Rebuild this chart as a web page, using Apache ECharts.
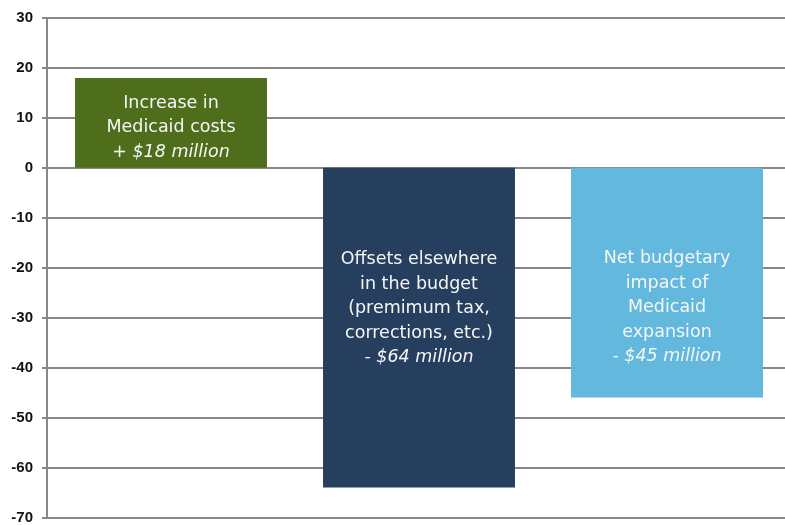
<!DOCTYPE html>
<html>
<head>
<meta charset="utf-8">
<script src="https://cdn.jsdelivr.net/npm/echarts@6/dist/echarts.min.js"></script>
<style>html,body{margin:0;padding:0;background:#fff;overflow:hidden}#c{width:791px;height:525px}</style>
</head>
<body>
<div id="c"></div>
<script>
const categories = ['Increase in Medicaid costs', 'Offsets elsewhere in the budget', 'Net budgetary impact of Medicaid expansion'];
const values = [18, -64, -46];
const labelLines = [
  ['Increase in', 'Medicaid costs'],
  ['Offsets elsewhere', 'in the budget', '(premimum tax,', 'corrections, etc.)'],
  ['Net budgetary', 'impact of', 'Medicaid', 'expansion']
];
const labelAmounts = ['+ $18 million', '- $64 million', '- $45 million'];
const colors = ['#4e6e1b', '#263f5f', '#62b8dd'];
const labelOffsets = [[0, 5], [0, -19], [0, 25]];
const yTicks = [-70, -60, -50, -40, -30, -20, -10, 0, 10, 20, 30];

const chart = echarts.init(document.getElementById('c'));
const font = '"DejaVu Sans", "Open Sans", sans-serif';
chart.setOption({
  animation: false,
  grid: { left: 47, top: 18, right: 0, height: 500 },
  xAxis: {
    type: 'category', data: categories,
    axisLine: { show: false }, axisTick: { show: false }, axisLabel: { show: false }
  },
  yAxis: {
    type: 'value', min: yTicks[0], max: yTicks[yTicks.length - 1], interval: 10,
    axisLine: { show: true, lineStyle: { color: '#888', width: 2 } },
    axisTick: { show: true, length: 5, lineStyle: { color: '#888', width: 2 } },
    axisLabel: { color: '#111', fontWeight: 'bold', fontSize: 15, fontFamily: 'Liberation Sans, Arial, sans-serif', margin: 14 },
    splitLine: { lineStyle: { color: '#888', width: 2 } }
  },
  series: [{
    type: 'bar',
    barCategoryGap: '22.6%',
    data: values.map((v, i) => ({
      value: v,
      itemStyle: { color: colors[i] },
      label: {
        show: true, position: 'inside', offset: labelOffsets[i],
        formatter: labelLines[i].map(l => '{a|' + l + '}').join('\n') + '\n{b|' + labelAmounts[i] + '}',
        rich: {
          a: { color: '#f6f6f6', fontSize: 17.5, fontWeight: 'normal', fontFamily: font, lineHeight: 24.5, align: 'center' },
          b: { color: '#f6f6f6', fontSize: 17.5, fontWeight: 'normal', fontFamily: font, fontStyle: 'italic', lineHeight: 24.5, align: 'center' }
        }
      }
    }))
  }]
});
</script>
</body>
</html>
